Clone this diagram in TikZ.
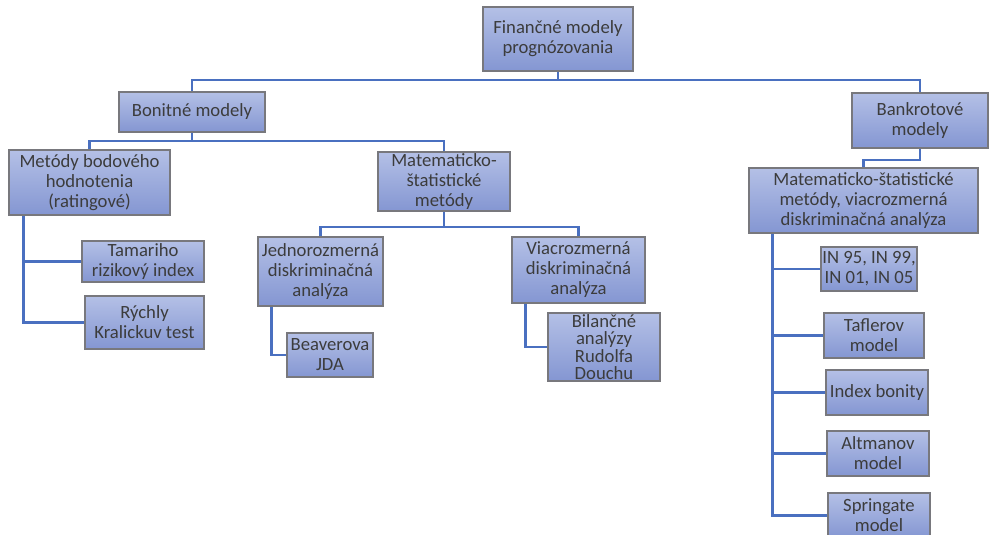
\documentclass[tikz,border=0pt]{standalone}
\usepackage{fontspec}
\setmainfont{Carlito}
\usetikzlibrary{calc}
\definecolor{boxtop}{RGB}{180,192,230}
\definecolor{boxbot}{RGB}{132,150,210}
\definecolor{boxline}{RGB}{120,120,125}
\definecolor{conn}{RGB}{74,112,192}
\definecolor{txt}{RGB}{60,60,60}
\pgfdeclarelayer{bg}
\pgfsetlayers{bg,main}
\begin{document}
\begin{tikzpicture}[x=0.75pt,y=-0.75pt,
  box/.style={draw=boxline, line width=0.9pt, top color=boxtop, bottom color=boxbot,
    text=txt, align=center, inner sep=1pt, font=\fontsize{14}{15}\selectfont},
  link/.style={draw=conn, line width=1.8pt}]
\useasboundingbox (0,0) rectangle (993,535);
\clip (0,0) rectangle (993,535);
% boxes
\node[box, minimum width=112.5pt, minimum height=48pt] (top) at (558,39) {Finančné modely\\prognózovania};
\node[box, minimum width=109.5pt, minimum height=30pt] (bon) at (192,112) {Bonitné modely};
\node[box, minimum width=120.75pt, minimum height=48.75pt] (met) at (89.5,182.5) {Metódy bodového\\hodnotenia\\(ratingové)};
\node[box, minimum width=91.5pt, minimum height=30.75pt] (tam) at (143,261.5) {Tamariho\\rizikový index};
\node[box, minimum width=89.25pt, minimum height=39.75pt] (ryc) at (144.5,322.5) {Rýchly\\Kralickuv test};
\node[box, minimum width=99pt, minimum height=44.25pt] (ms) at (444,181.5) {Matematicko-\\štatistické\\metódy};
\node[box, minimum width=93.75pt, minimum height=51.75pt] (jed) at (320.5,271.5) {Jednorozmerná\\diskriminačná\\analýza};
\node[box, minimum width=99.75pt, minimum height=49.5pt] (via) at (578.5,270) {Viacrozmerná\\diskriminačná\\analýza};
\node[box, minimum width=64.5pt, minimum height=33pt] (beav) at (330,355) {Beaverova\\JDA};
\node[box, minimum width=84pt, minimum height=51pt, font=\fontsize{14}{13}\selectfont] (bil) at (604,347) {Bilančné\\analýzy\\Rudolfa\\Douchu};
\node[box, minimum width=102pt, minimum height=41.25pt] (bank) at (920,120.5) {Bankrotové\\modely};
\node[box, minimum width=171.75pt, minimum height=48.75pt] (ms2) at (863.5,200.5) {Matematicko-štatistické\\metódy, viacrozmerná\\diskriminačná analýza};
\node[box, minimum width=69pt, minimum height=33pt] (in) at (869,269) {IN 95, IN 99,\\IN 01, IN 05};
\node[box, minimum width=75pt, minimum height=33.75pt] (taf) at (874,335.5) {Taflerov\\model};
\node[box, minimum width=76.5pt, minimum height=33.75pt] (idx) at (877,392.5) {Index bonity};
\node[box, minimum width=76.5pt, minimum height=33.75pt] (alt) at (878,453.5) {Altmanov\\model};
\node[box, minimum width=76.5pt, minimum height=33.75pt] (spr) at (879,515.5) {Springate\\model};
% junction coordinates
\coordinate (j0) at (557,80);
\coordinate (j1) at (192,141);
\coordinate (j2) at (444,227);
\coordinate (j3) at (920,160);
\begin{pgfonlayer}{bg}
% tree connectors
\draw[link] (top.south) -- (top.south |- j0) -| (bon.north);
\draw[link] (top.south |- j0) -| (bank.north);
\draw[link] (bon.south) -- (bon.south |- j1) -| (met.north);
\draw[link] (bon.south |- j1) -| (ms.north);
\draw[link] (ms.south) -- (ms.south |- j2) -| (jed.north);
\draw[link] (ms.south |- j2) -| (via.north);
\draw[link] (bank.south) -- (bank.south |- j3) -| (ms2.north);
% side spines
\draw[link] ([xshift=11.25pt]met.south west) |- (tam.west);
\draw[link] ([xshift=11.25pt]met.south west) |- (ryc.west);
\draw[link] ([xshift=10.5pt]jed.south west) |- (beav.west);
\draw[link] ([xshift=10.5pt]via.south west) |- (bil.west);
\draw[link] ([xshift=18pt]ms2.south west) |- (in.west);
\draw[link] ([xshift=18pt]ms2.south west) |- (taf.west);
\draw[link] ([xshift=18pt]ms2.south west) |- (idx.west);
\draw[link] ([xshift=18pt]ms2.south west) |- (alt.west);
\draw[link] ([xshift=18pt]ms2.south west) |- (spr.west);
\end{pgfonlayer}
\end{tikzpicture}
\end{document}
